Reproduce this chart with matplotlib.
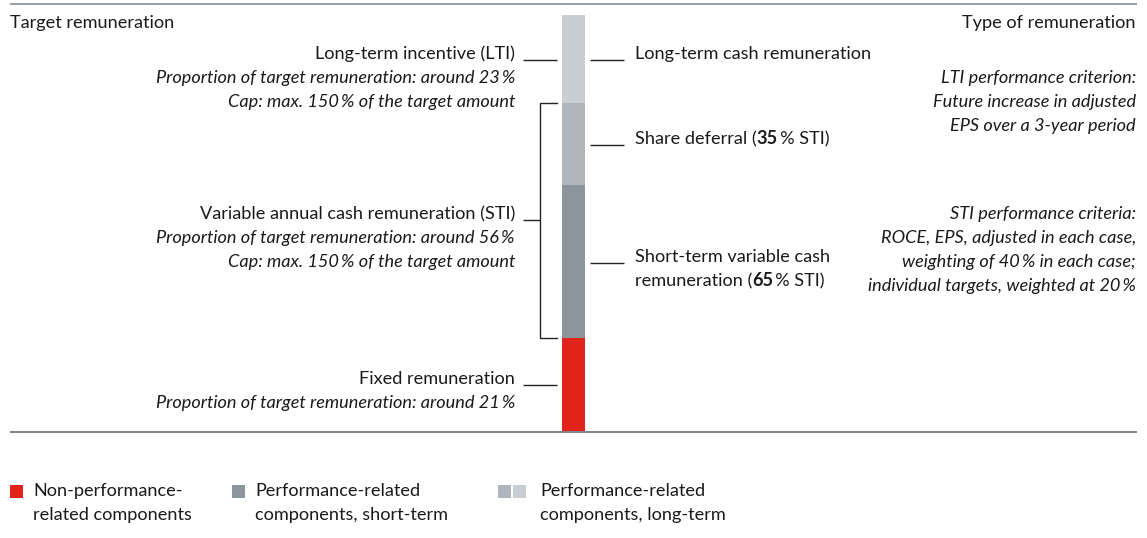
import matplotlib
matplotlib.use("Agg")
import matplotlib.pyplot as plt

# ---- data (share of target remuneration, %, bottom to top) ----
segments = ["Fixed remuneration", "Short-term variable cash remuneration",
            "Share deferral", "Long-term cash remuneration"]
values = [22.4, 36.8, 19.7, 21.1]
colors = ["#E2231A", "#8A959C", "#AEB5BB", "#C9CED2"]

legend_labels = ["Non-performance-\nrelated components",
                 "Performance-related\ncomponents, short-term",
                 "Performance-related\ncomponents, long-term"]

W, H = 1147, 538
FONT = ["Lato", "DejaVu Sans"]
FS = 13.1
TXT = "#1a1a1a"
plt.rcParams["font.family"] = FONT

fig = plt.figure(figsize=(W / 100, H / 100), dpi=100)
ov = fig.add_axes([0, 0, 1, 1])
ov.set_xlim(0, W)
ov.set_ylim(H, 0)
ov.axis("off")

# bar axes
bx0, bx1, by0, by1 = 562, 585, 15, 431
bar = fig.add_axes([bx0 / W, (H - by1) / H, (bx1 - bx0) / W, (by1 - by0) / H])
bottom = 0
for v, c in zip(values, colors):
    bar.bar(0, v, bottom=bottom, width=1.0, color=c, linewidth=0)
    bottom += v
bar.set_xlim(-0.5, 0.5)
bar.set_ylim(0, sum(values))
bar.axis("off")


def ypix(v):
    disp = bar.transData.transform((0, v))
    return ov.transData.inverted().transform(disp)[1]


cum = [0]
for v in values:
    cum.append(cum[-1] + v)

# horizontal rules
ov.plot([10, 1137], [3.5, 3.5], color="#9AA1A6", lw=1.4, solid_capstyle="butt")
ov.plot([10, 1137], [431.5, 431.5], color="#7C858B", lw=1.4, solid_capstyle="butt", zorder=5)

LC = "#222222"
LW = 1.0


def hline(x0, x1, y):
    ov.plot([x0, x1], [y, y], color=LC, lw=LW, solid_capstyle="butt")


def txt(x, y, s, ha="left", style="normal", weight="normal"):
    return ov.text(x, y, s, ha=ha, va="baseline", fontsize=FS, color=TXT,
                   style=style, weight=weight, family=FONT)


renderer = fig.canvas.get_renderer()


def rich(x, y, parts):
    cx = x
    for s, w in parts:
        t = txt(cx, y, s, weight=w)
        bb = t.get_window_extent(renderer=renderer)
        cx = ov.transData.inverted().transform((bb.x1, bb.y0))[0]


# headers
txt(10, 28, "Target remuneration")
txt(1136, 28, "Type of remuneration", ha="right")

# left labels
LX = 515
txt(LX, 59, "Long-term incentive (LTI)", ha="right")
txt(LX, 83, "Proportion of target remuneration: around 23\u2009%", ha="right", style="italic")
txt(LX, 107, "Cap: max. 150\u2009% of the target amount", ha="right", style="italic")
hline(523, 557, 59.5)

txt(LX, 219, "Variable annual cash remuneration (STI)", ha="right")
txt(LX, 243, "Proportion of target remuneration: around 56\u2009%", ha="right", style="italic")
txt(LX, 267, "Cap: max. 150\u2009% of the target amount", ha="right", style="italic")
# bracket over STI (short-term cash + deferral)
yt, yb = ypix(cum[3]), ypix(cum[1])
ov.plot([557, 539.5, 539.5, 557], [yt, yt, yb, yb], color=LC, lw=LW,
        solid_joinstyle="miter")
hline(523, 539.5, 220)

txt(LX, 384, "Fixed remuneration", ha="right")
txt(LX, 408, "Proportion of target remuneration: around 21\u2009%", ha="right", style="italic")
hline(523, 557, 384.5)

# right-of-bar labels
RX = 635
hline(590, 624, 59.5)
txt(RX, 59, "Long-term cash remuneration")
hline(590, 624, 144.5)
rich(RX, 144, [("Share deferral (", "normal"), ("35", "bold"), ("\u2009% STI)", "normal")])
hline(590, 624, 262.5)
txt(RX, 262, "Short-term variable cash")
rich(RX, 286, [("remuneration (", "normal"), ("65", "bold"), ("\u2009% STI)", "normal")])

# far right criteria
RR = 1136
for y, s in zip([83, 107, 131], ["LTI performance criterion:",
                                  "Future increase in adjusted",
                                  "EPS over a 3-year period"]):
    txt(RR, y, s, ha="right", style="italic")
for y, s in zip([219, 243, 267, 291], ["STI performance criteria:",
                                       "ROCE, EPS, adjusted in each case,",
                                       "weighting of 40\u2009% in each case;",
                                       "individual targets, weighted at 20\u2009%"]):
    txt(RR, y, s, ha="right", style="italic")

# legend
leg_items = [([colors[0]], 10, 33), ([colors[1]], 232, 255), ([colors[2], colors[3]], 498, 540)]
for (cols, sx, tx), lab in zip(leg_items, legend_labels):
    for i, c in enumerate(cols):
        ov.add_patch(plt.Rectangle((sx + i * 15, 485), 13, 13, color=c, lw=0))
    l1, l2 = lab.split("\n")
    txt(tx, 496, l1)
    txt(tx, 520, l2)

fig.savefig("out.png", dpi=100)
